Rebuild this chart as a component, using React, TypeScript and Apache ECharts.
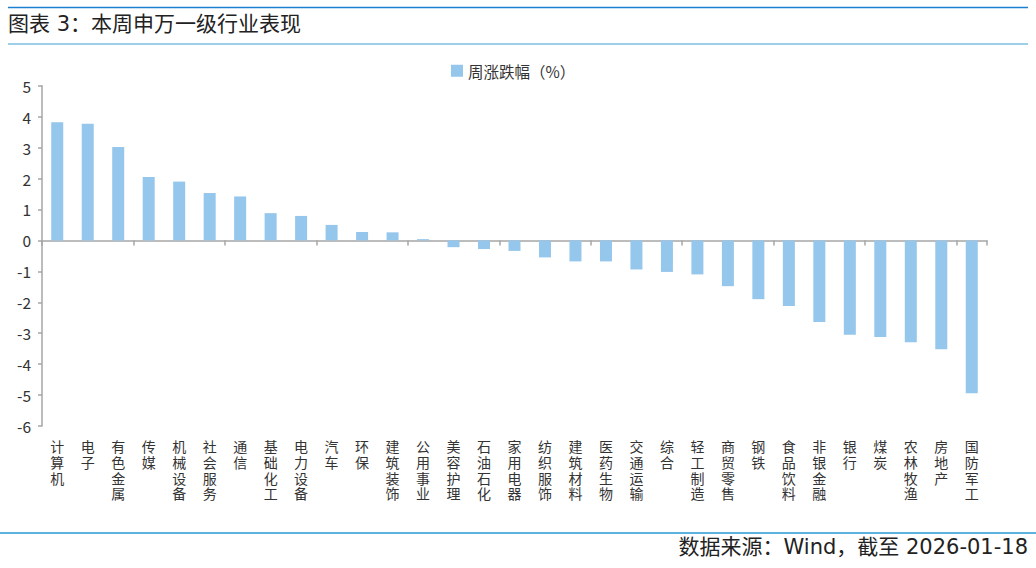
import React, { useEffect, useRef } from "react";
import * as echarts from "echarts";

const categories = [
  "计算机", "电子", "有色金属", "传媒", "机械设备", "社会服务", "通信", "基础化工",
  "电力设备", "汽车", "环保", "建筑装饰", "公用事业", "美容护理", "石油石化", "家用电器",
  "纺织服饰", "建筑材料", "医药生物", "交通运输", "综合", "轻工制造", "商贸零售", "钢铁",
  "食品饮料", "非银金融", "银行", "煤炭", "农林牧渔", "房地产", "国防军工",
];

const weeklyChange = [
  3.82, 3.77, 3.02, 2.05, 1.9, 1.53, 1.42, 0.88,
  0.79, 0.5, 0.27, 0.26, 0.04, -0.22, -0.28, -0.34,
  -0.55, -0.68, -0.68, -0.94, -1.02, -1.1, -1.48, -1.9,
  -2.12, -2.64, -3.05, -3.12, -3.29, -3.52, -4.94,
];

const seriesName = "周涨跌幅（%）";
const titleText = "图表 3：本周申万一级行业表现";
const sourceText = "数据来源：Wind，截至 2026-01-18";

const FONT = "'Noto Sans CJK SC', 'Noto Sans', sans-serif";
const WIDE_FONT = "'DejaVu Sans', 'Noto Sans CJK SC', sans-serif";

export default function App() {
  const ref = useRef<HTMLDivElement>(null);

  useEffect(() => {
    document.body.style.margin = "0";
    if (!ref.current) return;
    const chart = echarts.init(ref.current, null, { renderer: "svg" });
    const axisColor = "#a6a6a6";
    chart.setOption({
      animation: false,
      backgroundColor: "#ffffff",
      textStyle: { fontFamily: FONT },
      legend: {
        data: [seriesName],
        left: 446,
        top: 58,
        icon: "rect",
        itemWidth: 12,
        itemHeight: 12,
        itemGap: 6,
        textStyle: { fontSize: 15.5, color: "#333333", fontFamily: FONT },
      },
      grid: { left: 42, right: 49, top: 85.7, bottom: 142, containLabel: false },
      xAxis: [
        {
          type: "category",
          data: categories,
          position: "bottom",
          axisLine: { show: false, onZero: false },
          axisTick: { show: false },
          axisLabel: {
            interval: 0,
            margin: 12,
            fontSize: 14,
            lineHeight: 15.8,
            color: "#333333",
            fontFamily: FONT,
            verticalAlign: "top",
            formatter: (v: string) => v.split("").join("\n"),
          },
        },
        {
          type: "category",
          data: categories,
          position: "top",
          axisLine: { show: true, onZero: true, lineStyle: { color: axisColor, width: 1.5 } },
          axisTick: { show: true, inside: true, length: 5, lineStyle: { color: axisColor, width: 1.5 } },
          axisLabel: { show: false },
          splitLine: { show: false },
        },
      ],
      yAxis: {
        type: "value",
        min: -6,
        max: 5,
        interval: 1,
        axisLine: { show: true, lineStyle: { color: axisColor, width: 1.5 } },
        axisTick: { show: true, length: 4, lineStyle: { color: axisColor, width: 1.5 } },
        splitLine: { show: false },
        axisLabel: { fontSize: 15.5, color: "#333333", margin: 11, fontFamily: FONT },
      },
      series: [
        {
          name: seriesName,
          type: "bar",
          xAxisIndex: 0,
          data: weeklyChange,
          barWidth: 12,
          itemStyle: { color: "#95c6eb" },
        },
      ],
      graphic: [
        {
          type: "line",
          shape: { x1: 8, y1: 7.5, x2: 1028, y2: 7.5 },
          style: { stroke: "#1c7fcf", lineWidth: 1.5 },
        },
        {
          type: "text",
          left: 8,
          top: 13,
          style: { text: titleText, fontSize: 21, fill: "#222222", fontFamily: WIDE_FONT },
        },
        {
          type: "line",
          shape: { x1: 8, y1: 44, x2: 1028, y2: 44 },
          style: { stroke: "#7dc0e0", lineWidth: 1.5 },
        },
        {
          type: "line",
          shape: { x1: 0, y1: 533, x2: 1036, y2: 533 },
          style: { stroke: "#5cb3e0", lineWidth: 2 },
        },
        {
          type: "text",
          right: 8,
          top: 536,
          style: { text: sourceText, fontSize: 21, fill: "#222222", fontFamily: WIDE_FONT },
        },
      ],
    });
    return () => chart.dispose();
  }, []);

  return <div ref={ref} style={{ width: 1036, height: 568 }} />;
}
